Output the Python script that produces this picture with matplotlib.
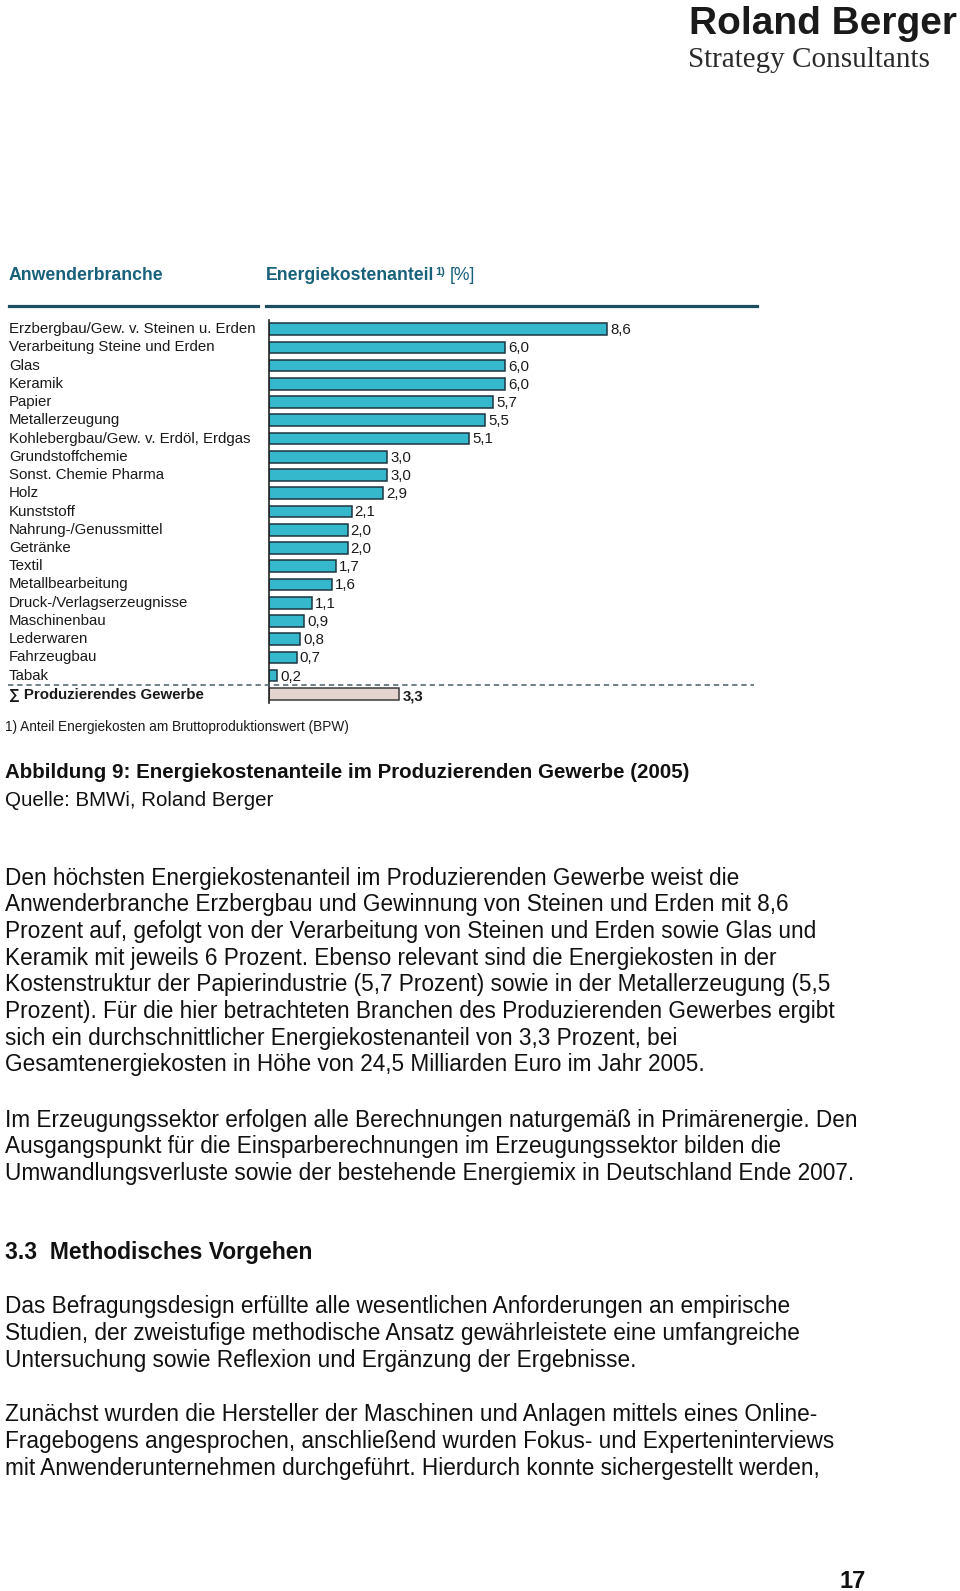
import matplotlib.pyplot as plt
from matplotlib import font_manager
from matplotlib.lines import Line2D
from matplotlib.transforms import blended_transform_factory

plt.rcParams['font.family'] = ['Liberation Sans', 'DejaVu Sans']

# chart data
branchen = [
    "Erzbergbau/Gew. v. Steinen u. Erden",
    "Verarbeitung Steine und Erden",
    "Glas",
    "Keramik",
    "Papier",
    "Metallerzeugung",
    "Kohlebergbau/Gew. v. Erdöl, Erdgas",
    "Grundstoffchemie",
    "Sonst. Chemie Pharma",
    "Holz",
    "Kunststoff",
    "Nahrung-/Genussmittel",
    "Getränke",
    "Textil",
    "Metallbearbeitung",
    "Druck-/Verlagserzeugnisse",
    "Maschinenbau",
    "Lederwaren",
    "Fahrzeugbau",
    "Tabak",
]
anteile = [8.6, 6.0, 6.0, 6.0, 5.7, 5.5, 5.1, 3.0, 3.0, 2.9, 2.1, 2.0, 2.0,
           1.7, 1.6, 1.1, 0.9, 0.8, 0.7, 0.2]
summe_label = "∑ Produzierendes Gewerbe"
summe_wert = 3.3

# page text
caption = "Abbildung 9: Energiekostenanteile im Produzierenden Gewerbe (2005)"
quelle = "Quelle: BMWi, Roland Berger"
absatz1 = [
    "Den höchsten Energiekostenanteil im Produzierenden Gewerbe weist die",
    "Anwenderbranche Erzbergbau und Gewinnung von Steinen und Erden mit 8,6",
    "Prozent auf, gefolgt von der Verarbeitung von Steinen und Erden sowie Glas und",
    "Keramik mit jeweils 6 Prozent. Ebenso relevant sind die Energiekosten in der",
    "Kostenstruktur der Papierindustrie (5,7 Prozent) sowie in der Metallerzeugung (5,5",
    "Prozent). Für die hier betrachteten Branchen des Produzierenden Gewerbes ergibt",
    "sich ein durchschnittlicher Energiekostenanteil von 3,3 Prozent, bei",
    "Gesamtenergiekosten in Höhe von 24,5 Milliarden Euro im Jahr 2005.",
]
absatz2 = [
    "Im Erzeugungssektor erfolgen alle Berechnungen naturgemäß in Primärenergie. Den",
    "Ausgangspunkt für die Einsparberechnungen im Erzeugungssektor bilden die",
    "Umwandlungsverluste sowie der bestehende Energiemix in Deutschland Ende 2007.",
]
absatz3 = [
    "Das Befragungsdesign erfüllte alle wesentlichen Anforderungen an empirische",
    "Studien, der zweistufige methodische Ansatz gewährleistete eine umfangreiche",
    "Untersuchung sowie Reflexion und Ergänzung der Ergebnisse.",
]
absatz4 = [
    "Zunächst wurden die Hersteller der Maschinen und Anlagen mittels eines Online-",
    "Fragebogens angesprochen, anschließend wurden Fokus- und Experteninterviews",
    "mit Anwenderunternehmen durchgeführt. Hierdurch konnte sichergestellt werden,",
]

W, H = 960, 1591
fig = plt.figure(figsize=(W / 100, H / 100), dpi=100)
fig.patch.set_facecolor('white')

teal = '#17617a'
bar_col = '#35b8cc'
edge_col = '#1c3640'

# narrow font only if it is really there, otherwise shrink the regular one
names = {f.name for f in font_manager.fontManager.ttflist}
has_narrow = 'Liberation Sans Narrow' in names
narrow = ['Liberation Sans Narrow' if has_narrow else 'Liberation Sans', 'DejaVu Sans']
cap_fs = 18 if has_narrow else 14.8
logo_fs = 34 if has_narrow else 28


def fx(x):
    return x / W


def fy(y):
    return 1 - y / H


def ptext(x, y, s, **kw):
    kw.setdefault('va', 'center')
    kw.setdefault('ha', 'left')
    return fig.text(fx(x), fy(y), s, **kw)


# logo
ptext(957, 24, "Roland Berger", fontsize=logo_fs, fontweight='heavy',
      family=narrow, color='#1a1a1a', ha='right')
ptext(688, 60, "Strategy Consultants", fontsize=21,
      family=['Liberation Serif', 'DejaVu Serif'], color='#2a2a2a')

# headers
hdr_fs = 12.7
ptext(9, 276, "Anwenderbranche", fontsize=hdr_fs, fontweight='bold', color=teal)
t = ptext(266, 276, "Energiekostenanteil", fontsize=hdr_fs, fontweight='bold',
          color=teal)
fig.canvas.draw()
x_end = t.get_window_extent().x1
fig.text((x_end + 0.5) / W, fy(272), "1)", fontsize=8, fontweight='bold',
         color=teal, va='center', ha='left')
fig.text((x_end + 15) / W, fy(276), "[%]", fontsize=hdr_fs, color=teal,
         va='center', ha='left')

for x0, x1 in [(9, 258), (266, 757)]:
    fig.add_artist(Line2D([fx(x0), fx(x1)], [fy(306), fy(306)],
                          transform=fig.transFigure, color='#1d4f5e', lw=2.3))

# chart axes: x scale ~39.3 px per %, rows 18.26 px apart
ax_left, ax_top, ax_bot = 269, 320, 703
px_per_unit = 39.3
xmax = 12
ax = fig.add_axes([fx(ax_left), fy(ax_bot), fx(xmax * px_per_unit),
                   (ax_bot - ax_top) / H])
ax.set_xlim(0, xmax)
n = len(branchen)
ax.set_ylim(n + 0.5, -0.5)
ax.axis('off')

rows = list(range(n))
ax.barh(rows, anteile, height=0.64, color=bar_col, edgecolor=edge_col, lw=1.1)
ax.barh([n], [summe_wert], height=0.64, color='#e3d4cf', edgecolor='#3a3a3a', lw=1.1)
ax.plot([0, 0], [-0.5, n + 0.5], color='#222222', lw=1.2, clip_on=False)

lab_fs = 10.8
lab_tr = blended_transform_factory(fig.transFigure, ax.transData)
for i, (name, v) in enumerate(zip(branchen, anteile)):
    ax.text(fx(9), i, name, transform=lab_tr, fontsize=lab_fs, va='center',
            ha='left', color='#1a1a1a')
    ax.text(v + 0.08, i + 0.05, f"{v:.1f}".replace('.', ','), fontsize=lab_fs,
            va='center', ha='left', color='#1a1a1a')
ax.text(fx(9), n + 0.05, summe_label, transform=lab_tr, fontsize=lab_fs,
        fontweight='bold', va='center', ha='left', color='#1a1a1a')
ax.text(summe_wert + 0.1, n + 0.15, f"{summe_wert:.1f}".replace('.', ','),
        fontsize=lab_fs, fontweight='bold', va='center', ha='left', color='#1a1a1a')

# dashed separator
ax.plot([fx(8), fx(754)], [n - 0.5, n - 0.5], transform=lab_tr, color='#4a5d66',
        lw=1.1, ls=(0, (3.5, 2.5)), clip_on=False)

# footnote
ptext(5, 727, "1) Anteil Energiekosten am Bruttoproduktionswert (BPW)",
      fontsize=9.8, color='#1a1a1a')

# caption
ptext(5, 772, caption, fontsize=cap_fs, fontweight='bold', family=narrow,
      color='#111111')
ptext(5, 800, quelle, fontsize=cap_fs, family=narrow, color='#111111')

body_fs = 16.3
line_h = 26.7


def absatz(lines, y0):
    for k, s in enumerate(lines):
        ptext(5, y0 + k * line_h, s, fontsize=body_fs, color='#111111')


absatz(absatz1, 878)
absatz(absatz2, 1120)
ptext(5, 1253, "3.3  Methodisches Vorgehen", fontsize=16.5, fontweight='bold',
      color='#111111')
absatz(absatz3, 1307)
absatz(absatz4, 1415)

# page number
ptext(853, 1581, "17", fontsize=17, fontweight='bold', ha='center',
      color='#111111')

fig.savefig('out.png', dpi=100, facecolor='white')
